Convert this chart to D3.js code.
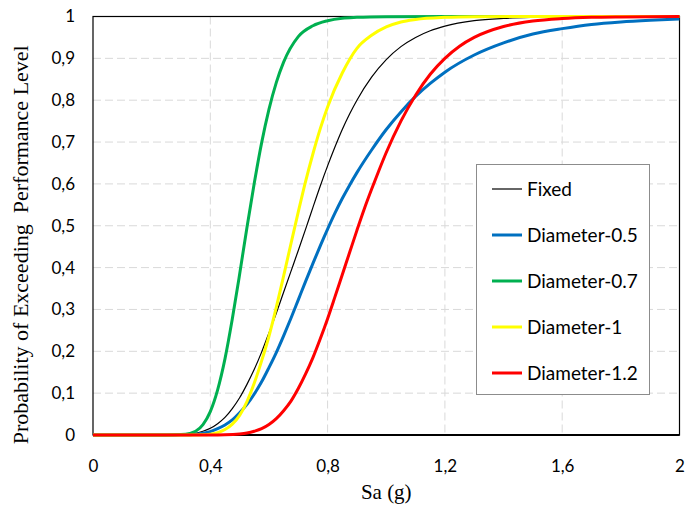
<!DOCTYPE html>
<html><head><meta charset="utf-8">
<script src="https://cdn.jsdelivr.net/npm/d3@7"></script>
<style>
html,body{margin:0;padding:0;background:#fff;}
svg{display:block;}
</style></head>
<body>
<svg id="chart" width="686" height="508"></svg>
<script>
// ---- data ----
const xTicks = [0, 0.4, 0.8, 1.2, 1.6, 2];
const yTicks = [0, 0.1, 0.2, 0.3, 0.4, 0.5, 0.6, 0.7, 0.8, 0.9, 1];
const seriesNames = ["Fixed", "Diameter-0.5", "Diameter-0.7", "Diameter-1", "Diameter-1.2"];
const seriesColors = ["#000000", "#0070C0", "#00B050", "#FFFF00", "#FF0000"];
const seriesWidths = [1.2, 3, 3, 3, 3];

const fixed = [[0,0],[0.25,0],[0.3,0.001],[0.35,0.004],[0.375,0.009],[0.4,0.016],[0.425,0.027],[0.45,0.042],[0.475,0.063],[0.5,0.089],[0.525,0.121],[0.55,0.157],[0.575,0.198],[0.6,0.244],[0.625,0.291],[0.65,0.341],[0.675,0.391],[0.7,0.441],[0.725,0.492],[0.75,0.544],[0.775,0.595],[0.8,0.643],[0.825,0.688],[0.85,0.730],[0.875,0.767],[0.9,0.800],[0.95,0.855],[1.0,0.897],[1.05,0.928],[1.1,0.950],[1.15,0.966],[1.2,0.977],[1.3,0.990],[1.4,0.9955],[1.5,0.998],[1.6,0.9992],[1.8,0.9999],[2.0,1]];
const dia05 = [[0,0],[0.25,0],[0.3,0.0004],[0.35,0.002],[0.375,0.0045],[0.4,0.008],[0.425,0.015],[0.45,0.024],[0.475,0.036],[0.5,0.053],[0.525,0.073],[0.55,0.098],[0.575,0.127],[0.6,0.161],[0.625,0.197],[0.65,0.237],[0.675,0.279],[0.7,0.323],[0.725,0.367],[0.75,0.410],[0.775,0.452],[0.8,0.492],[0.825,0.530],[0.85,0.565],[0.875,0.597],[0.9,0.627],[0.95,0.681],[1.0,0.730],[1.05,0.772],[1.1,0.809],[1.15,0.840],[1.2,0.867],[1.3,0.908],[1.4,0.937],[1.5,0.958],[1.6,0.971],[1.7,0.981],[1.8,0.987],[1.9,0.991],[2.0,0.994]];
const dia07 = [[0,0],[0.25,0],[0.3,0.001],[0.33,0.004],[0.35,0.009],[0.375,0.025],[0.4,0.056],[0.425,0.108],[0.45,0.182],[0.475,0.277],[0.5,0.384],[0.525,0.496],[0.55,0.602],[0.575,0.698],[0.6,0.778],[0.625,0.842],[0.65,0.891],[0.7,0.952],[0.75,0.978],[0.8,0.990],[0.85,0.996],[0.9,0.998],[1.0,0.9995],[1.2,1],[2.0,1]];
const dia1 = [[0,0],[0.3,0],[0.375,0.0005],[0.4,0.002],[0.425,0.0055],[0.45,0.013],[0.475,0.026],[0.5,0.047],[0.525,0.080],[0.55,0.124],[0.575,0.177],[0.6,0.236],[0.625,0.305],[0.65,0.380],[0.675,0.457],[0.7,0.533],[0.725,0.606],[0.75,0.672],[0.775,0.732],[0.8,0.784],[0.85,0.865],[0.9,0.924],[0.95,0.955],[1.0,0.975],[1.05,0.987],[1.1,0.993],[1.2,0.998],[1.3,0.9996],[1.5,1],[2.0,1]];
const dia12 = [[0,0],[0.4,0],[0.45,0.0004],[0.5,0.0024],[0.525,0.0048],[0.55,0.009],[0.575,0.015],[0.6,0.025],[0.625,0.039],[0.65,0.058],[0.675,0.081],[0.7,0.111],[0.725,0.146],[0.75,0.185],[0.775,0.230],[0.8,0.278],[0.825,0.330],[0.85,0.383],[0.875,0.436],[0.9,0.489],[0.925,0.540],[0.95,0.587],[0.975,0.632],[1.0,0.675],[1.05,0.750],[1.1,0.812],[1.15,0.862],[1.2,0.900],[1.25,0.929],[1.3,0.950],[1.4,0.976],[1.5,0.989],[1.6,0.995],[1.7,0.998],[1.8,0.9991],[2.0,0.9999]];
const seriesData = [fixed, dia05, dia07, dia1, dia12];

// ---- layout ----
const svg = d3.select("#chart");
const L = 93, R = 679.5, T = 16.5, B = 435;
const x = d3.scaleLinear().domain([0, 2]).range([L, R]);
const y = d3.scaleLinear().domain([0, 1]).range([B, T]);
const fmt = d => String(d).replace(".", ",");

// gridlines
const grid = svg.append("g");
grid.selectAll("line.h").data(yTicks.filter(d => d > 0 && d < 1)).join("line")
  .attr("x1", L).attr("x2", R).attr("y1", d => y(d)).attr("y2", d => y(d))
  .attr("stroke", "#d9d9d9").attr("stroke-width", 1).attr("stroke-dasharray", "8,4");
grid.selectAll("line.v").data(xTicks.filter(d => d > 0 && d < 2)).join("line")
  .attr("x1", d => x(d)).attr("x2", d => x(d)).attr("y1", T).attr("y2", B)
  .attr("stroke", "#d9d9d9").attr("stroke-width", 1).attr("stroke-dasharray", "8,4");

// plot border
svg.append("rect").attr("x", L).attr("y", T).attr("width", R - L).attr("height", B - T)
  .attr("fill", "none").attr("stroke", "#000").attr("stroke-width", 1.2);
svg.append("line").attr("x1", L).attr("x2", R).attr("y1", B).attr("y2", B)
  .attr("stroke", "#000").attr("stroke-width", 2);

// axes (labels only)
const tickFont = "Lato, 'Open Sans', sans-serif";
const yAxis = svg.append("g").attr("transform", `translate(${L},0)`)
  .call(d3.axisLeft(y).tickValues(yTicks).tickFormat(fmt).tickSize(0).tickPadding(18));
const xAxis = svg.append("g").attr("transform", `translate(0,${B})`)
  .call(d3.axisBottom(x).tickValues(xTicks).tickFormat(fmt).tickSize(0).tickPadding(25));
[yAxis, xAxis].forEach(a => {
  a.select(".domain").remove();
  a.selectAll("text").attr("font-family", tickFont).attr("font-size", 17).attr("fill", "#000");
});

// series
const line = d3.line().x(d => x(d[0])).y(d => y(d[1])).curve(d3.curveMonotoneX);
svg.append("g").selectAll("path").data(seriesData).join("path")
  .attr("d", line).attr("fill", "none")
  .attr("stroke", (d, i) => seriesColors[i])
  .attr("stroke-width", (d, i) => seriesWidths[i])
  .attr("stroke-linejoin", "round");

// axis titles
svg.append("text").attr("x", (L + R) / 2).attr("y", 499).attr("text-anchor", "middle")
  .attr("font-family", "'Liberation Serif', 'Times New Roman', serif").attr("font-size", 21)
  .text("Sa (g)");
svg.append("text").attr("transform", `translate(28,${(T + B) / 2 + 19}) rotate(-90)`)
  .attr("text-anchor", "middle")
  .attr("font-family", "'Liberation Serif', 'Times New Roman', serif").attr("font-size", 22)
  .attr("xml:space", "preserve")
  .text("Probability of Exceeding  Performance Level");

// legend
const lg = svg.append("g");
lg.append("rect").attr("x", 476.5).attr("y", 164.5).attr("width", 173).attr("height", 230)
  .attr("fill", "#fff").attr("stroke", "#8c8c8c").attr("stroke-width", 1);
const rowY = d3.scalePoint().domain(seriesNames).range([189, 373]);
const rows = lg.selectAll("g.row").data(seriesNames).join("g").attr("class", "row")
  .attr("transform", d => `translate(0,${rowY(d)})`);
rows.append("line").attr("x1", 492).attr("x2", 522).attr("y1", 0).attr("y2", 0)
  .attr("stroke", (d, i) => seriesColors[i]).attr("stroke-width", (d, i) => seriesWidths[i]);
rows.append("text").attr("x", 527).attr("y", 0).attr("dy", "0.35em")
  .attr("font-family", tickFont).attr("font-size", 19).text(d => d);
</script>
</body></html>
